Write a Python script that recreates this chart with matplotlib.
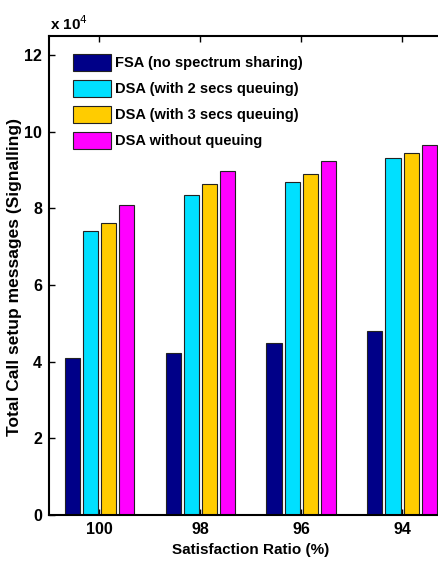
import numpy as np
import matplotlib.pyplot as plt

# data (x 10^4)
ratios = ['100', '98', '96', '94']
fsa = [4.10, 4.22, 4.49, 4.81]
dsa_2s = [7.41, 8.35, 8.69, 9.31]
dsa_3s = [7.63, 8.65, 8.91, 9.44]
dsa_noq = [8.10, 8.98, 9.24, 9.65]
labels = ['FSA (no spectrum sharing)', 'DSA (with 2 secs queuing)',
          'DSA (with 3 secs queuing)', 'DSA without queuing']
colors = ['#000088', '#00E0FF', '#FFCC00', '#FF00FF']

plt.rcParams['font.family'] = ['Liberation Sans', 'DejaVu Sans']

fig = plt.figure(figsize=(4.39, 5.68), dpi=100)
ax = fig.add_axes([49/439, 1-515/568, (452.5-49)/439, (515-36)/568])

x = np.arange(1, 5)
offsets = [-0.27, -0.09, 0.09, 0.27]
series = [fsa, dsa_2s, dsa_3s, dsa_noq]
for s, off, c, lab in zip(series, offsets, colors, labels):
    ax.bar(x + off, np.array(s)*1e4, width=0.15, color=c, edgecolor='#222222',
           linewidth=0.8, label=lab, zorder=2)

ax.set_xlim(0.5, 4.5)
ax.set_ylim(0, 12.5e4)
ax.set_xticks(x)
ax.set_xticklabels(ratios)
ax.set_yticks(np.arange(0, 13e4, 2e4))
ax.set_yticklabels([str(v) for v in range(0, 13, 2)])
ax.tick_params(direction='in', length=4, width=1, top=True, right=True,
               labelsize=11.5, pad=5)
for t in ax.get_xticklabels() + ax.get_yticklabels():
    t.set_fontweight('bold')
for sp in ax.spines.values():
    sp.set_linewidth(1.5)

ax.set_xlabel('Satisfaction Ratio (%)', fontsize=11, fontweight='bold')
ax.xaxis.set_label_coords(0.50, -0.058)
ax.set_ylabel('Total Call setup messages (Signalling)', fontsize=12.5,
              fontweight='bold')
ax.yaxis.set_label_coords(-0.068, 0.497)
fig.text(50/439, 1-24/568, 'x 10$^{4}$', fontsize=11, fontweight='bold',
         va='center', ha='left')

leg = ax.legend(loc='upper left', bbox_to_anchor=(0.0595, 0.962), frameon=False,
                fontsize=10.5, handlelength=2.6, handleheight=1.4,
                labelspacing=0.62, handletextpad=0.25, borderaxespad=0,
                borderpad=0)
for t in leg.get_texts():
    t.set_fontweight('bold')

fig.savefig('out.png', dpi=100)
